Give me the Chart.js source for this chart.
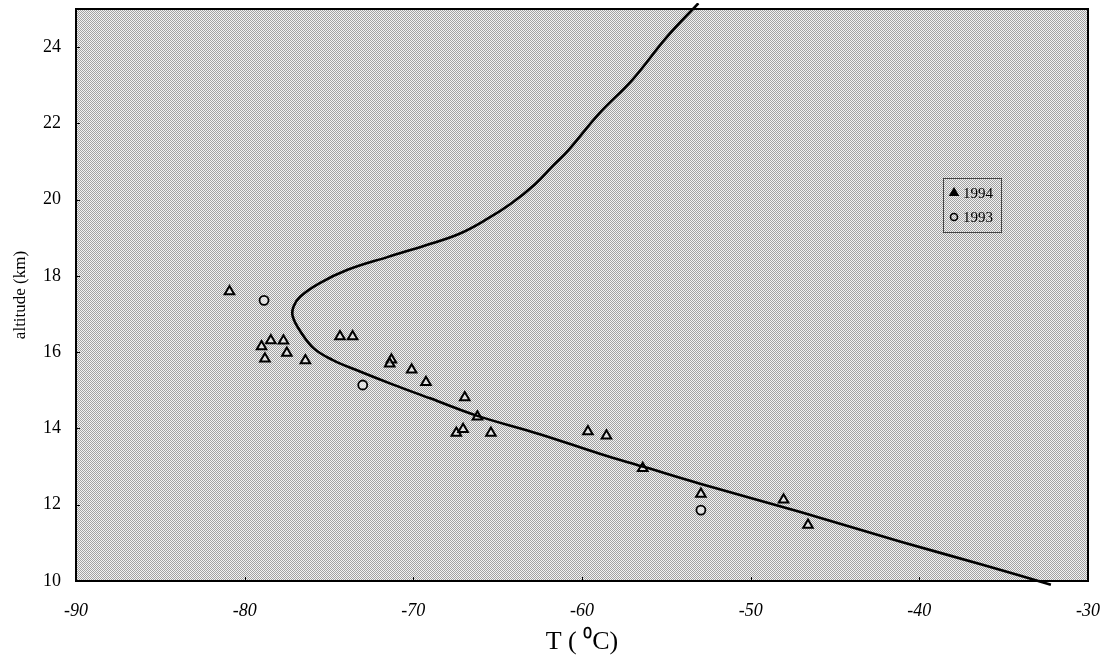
<!DOCTYPE html>
<html>
<head>
<meta charset="utf-8">
<script src="https://cdn.jsdelivr.net/npm/chart.js@4.4.1/dist/chart.umd.min.js"></script>
<style>
  html, body { margin: 0; padding: 0; background: #fff; }
  canvas { display: block; }
</style>
</head>
<body>
<canvas id="chart" width="1104" height="658"></canvas>
<script>
// Model temperature profile (T in degC vs altitude in km), ordered bottom to top
const profileT = [-32.2, -36.2, -41.1, -47.0, -53.0, -56.4, -58.9, -62.5, -66.2, -69.0, -71.2, -73.2,
  -74.8, -75.9, -76.7, -77.15, -77.1, -76.7, -75.6, -73.9, -71.5, -69.3, -67.3, -65.6, -64.2,
  -62.8, -61.7, -60.8, -59.0, -57.0, -55.0, -53.1];
const profileAlt = [9.9, 10.42, 11.03, 11.8, 12.55, 13.0, 13.33, 13.85, 14.33, 14.79, 15.15, 15.5,
  15.8, 16.1, 16.55, 16.94, 17.2, 17.46, 17.8, 18.16, 18.5, 18.8, 19.1, 19.5, 19.9,
  20.4, 20.9, 21.3, 22.25, 23.15, 24.25, 25.15];

// 1994 observations
const obs1994T = [-80.9, -79.0, -78.45, -77.7, -78.8, -77.5, -76.4, -74.35, -73.6, -71.3, -71.4,
  -70.1, -69.25, -66.95, -66.2, -67.45, -67.05, -65.4, -59.65, -58.55, -56.4, -52.95, -48.05, -46.6];
const obs1994Alt = [17.59, 16.15, 16.31, 16.3, 15.83, 15.98, 15.78, 16.41, 16.41, 15.8, 15.7,
  15.54, 15.21, 14.81, 14.31, 13.88, 13.98, 13.88, 13.92, 13.81, 12.96, 12.28, 12.13, 11.47];

// 1993 observations
const obs1993T = [-78.85, -73.0, -52.95];
const obs1993Alt = [17.36, 15.14, 11.86];

const xTicks = [-90, -80, -70, -60, -50, -40, -30];
const yTicks = [10, 12, 14, 16, 18, 20, 22, 24];

const toPoints = (xs, ys) => xs.map((x, i) => ({ x: x, y: ys[i] }));

// stippled grey background like the printed figure
function makeStipple(ctx) {
  const p = document.createElement('canvas');
  p.width = 2; p.height = 2;
  const pc = p.getContext('2d');
  pc.fillStyle = '#f2f2f2';
  pc.fillRect(0, 0, 2, 2);
  pc.fillStyle = '#a2a2a2';
  pc.fillRect(0, 0, 1, 1);
  pc.fillRect(1, 1, 1, 1);
  return ctx.createPattern(p, 'repeat');
}

const noPad = (scale) => {
  scale.paddingTop = 0;
  scale.paddingBottom = 0;
  scale.paddingLeft = 0;
  scale.paddingRight = 0;
};

const framePlugin = {
  id: 'frame',
  beforeDatasetsDraw(chart) {
    const { ctx, chartArea: a } = chart;
    ctx.save();
    ctx.fillStyle = makeStipple(ctx);
    ctx.fillRect(a.left, a.top, a.right - a.left, a.bottom - a.top);
    ctx.restore();
  },
  afterDraw(chart) {
    const { ctx, chartArea: a, scales } = chart;
    ctx.save();
    ctx.strokeStyle = '#000';
    ctx.lineWidth = 2;
    ctx.strokeRect(a.left, a.top, a.right - a.left, a.bottom - a.top);
    // small inward tick marks
    ctx.lineWidth = 1;
    ctx.beginPath();
    yTicks.forEach(v => {
      const py = Math.round(scales.y.getPixelForValue(v)) + 0.5;
      ctx.moveTo(a.left, py);
      ctx.lineTo(a.left + 4, py);
    });
    xTicks.forEach(v => {
      const px = Math.round(scales.x.getPixelForValue(v)) + 0.5;
      ctx.moveTo(px, a.bottom);
      ctx.lineTo(px, a.bottom - 4);
    });
    ctx.stroke();

    // legend box
    const bx = 943, by = 178, bw = 58, bh = 54;
    ctx.fillStyle = makeStipple(ctx);
    ctx.fillRect(bx, by, bw, bh);
    ctx.strokeStyle = '#444';
    ctx.lineWidth = 1;
    ctx.strokeRect(bx + 0.5, by + 0.5, bw, bh);
    ctx.font = '15px "Liberation Serif"';
    ctx.textBaseline = 'middle';
    ctx.fillStyle = '#000';
    const items = chart.data.datasets.filter(d => d.legend);
    items.forEach((d, i) => {
      const cy = by + 15 + i * 24;
      const cx = bx + 11;
      ctx.beginPath();
      ctx.lineWidth = 1.6;
      ctx.strokeStyle = '#000';
      if (d.pointStyle === 'triangle') {
        const r = 4.5;
        ctx.moveTo(cx, cy - r);
        ctx.lineTo(cx + r * 0.866, cy + r * 0.5);
        ctx.lineTo(cx - r * 0.866, cy + r * 0.5);
        ctx.closePath();
        ctx.fillStyle = '#000';
        ctx.fill();
      } else {
        ctx.arc(cx, cy, 3.5, 0, Math.PI * 2);
      }
      ctx.stroke();
      ctx.fillStyle = '#000';
      ctx.fillText(d.label, cx + 9, cy + 1);
    });
    ctx.restore();
  }
};

new Chart(document.getElementById('chart'), {
  type: 'scatter',
  data: {
    datasets: [
      {
        label: 'profile',
        data: toPoints(profileT, profileAlt),
        showLine: true,
        borderColor: '#000',
        borderWidth: 2.6,
        pointRadius: 0,
        tension: 0.4,
        clip: 6
      },
      {
        label: '1994',
        legend: true,
        data: toPoints(obs1994T, obs1994Alt),
        pointStyle: 'triangle',
        pointRadius: 5.5,
        pointBorderWidth: 2,
        pointBorderColor: '#000',
        pointBackgroundColor: 'rgba(240,240,240,0.6)'
      },
      {
        label: '1993',
        legend: true,
        data: toPoints(obs1993T, obs1993Alt),
        pointStyle: 'circle',
        pointRadius: 4.5,
        pointBorderWidth: 1.8,
        pointBorderColor: '#000',
        pointBackgroundColor: 'rgba(240,240,240,0.6)'
      }
    ]
  },
  options: {
    responsive: false,
    animation: false,
    devicePixelRatio: 1,
    layout: { padding: { top: 9, right: 16, left: 0, bottom: 0 } },
    plugins: {
      legend: { display: false },
      tooltip: { enabled: false }
    },
    scales: {
      x: {
        type: 'linear',
        min: -90,
        max: -30,
        grid: { display: false, drawTicks: false },
        border: { display: false },
        afterBuildTicks: (scale) => { scale.ticks = xTicks.map(v => ({ value: v })); },
        afterFit: (scale) => { scale.height = 77; noPad(scale); },
        ticks: {
          color: '#000',
          padding: 19,
          maxRotation: 0,
          font: { family: '"Liberation Serif"', size: 18, style: 'italic' }
        },
        title: {
          display: true,
          text: 'T ( \u2070C)',
          color: '#000',
          padding: { top: 0, bottom: 0 },
          font: { family: '"Liberation Serif"', size: 26 }
        }
      },
      y: {
        type: 'linear',
        min: 10,
        max: 25,
        grid: { display: false, drawTicks: false },
        border: { display: false },
        afterBuildTicks: (scale) => { scale.ticks = yTicks.map(v => ({ value: v })); },
        afterFit: (scale) => { scale.width = 76; noPad(scale); },
        ticks: {
          color: '#000',
          padding: 15,
          font: { family: '"Liberation Serif"', size: 18 }
        },
        title: {
          display: true,
          text: 'altitude (km)',
          color: '#000',
          padding: { top: 10, bottom: 0 },
          font: { family: '"Liberation Serif"', size: 17 }
        }
      }
    }
  },
  plugins: [framePlugin]
});
</script>
</body>
</html>
